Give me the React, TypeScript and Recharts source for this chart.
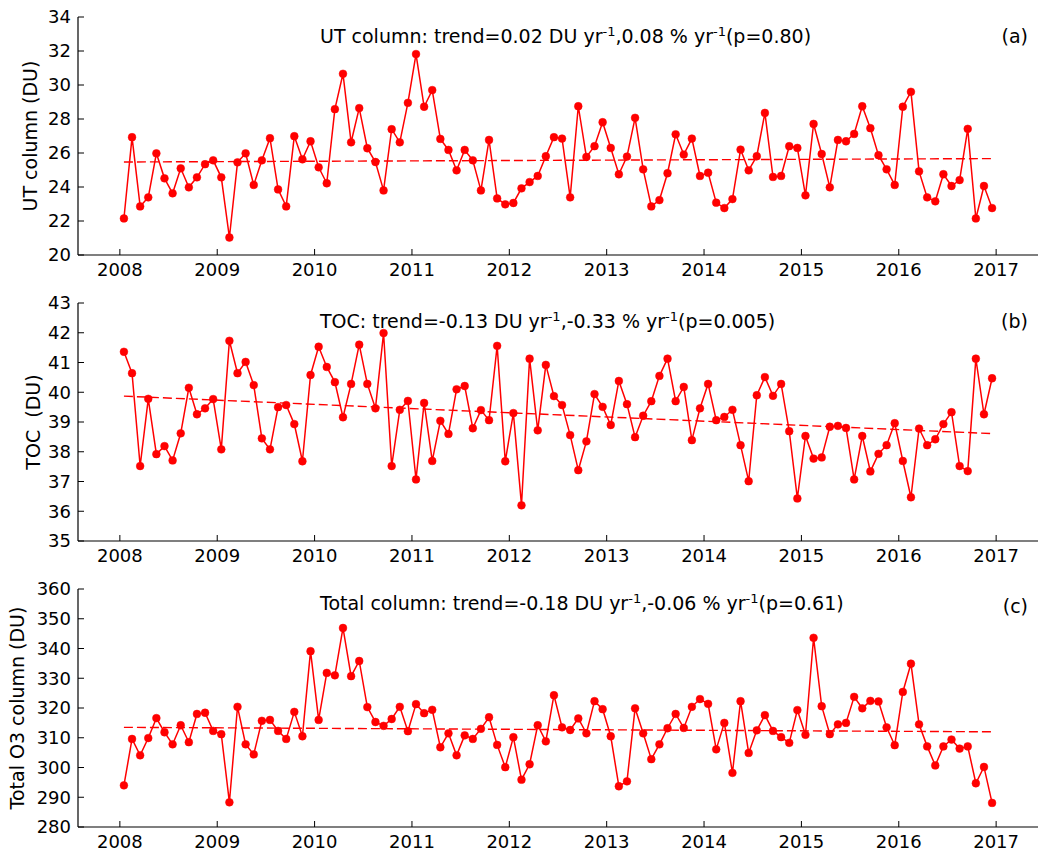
import React from "react";
import { LineChart, Line, XAxis, YAxis } from "recharts";

// monthly means 2008-2016
const YEARS = [2008, 2009, 2010, 2011, 2012, 2013, 2014, 2015, 2016];
const MONTHS = ["Jan", "Feb", "Mar", "Apr", "May", "Jun", "Jul", "Aug", "Sep", "Oct", "Nov", "Dec"];
const X_TICKS = [2008, 2009, 2010, 2011, 2012, 2013, 2014, 2015, 2016, 2017];
const X_DOMAIN: [number, number] = [2007.57, 2017.43];

const UT = [
  22.15, 26.93, 22.86, 23.39, 25.98, 24.51, 23.63, 25.1, 23.98, 24.57, 25.34, 25.57,
  24.57, 21.03, 25.45, 25.98, 24.12, 25.57, 26.87, 23.86, 22.86, 26.99, 25.63, 26.69,
  25.16, 24.22, 28.58, 30.66, 26.63, 28.64, 26.28, 25.47, 23.8, 27.4, 26.63, 28.95,
  31.82, 28.72, 29.7, 26.83, 26.18, 24.98, 26.18, 25.57, 23.8, 26.77, 23.33, 22.98,
  23.06, 23.92, 24.29, 24.65, 25.81, 26.93, 26.85, 23.39, 28.75, 25.77, 26.4, 27.81,
  26.3, 24.75, 25.79, 28.07, 25.04, 22.86, 23.23, 24.81, 27.1, 25.91, 26.85, 24.65,
  24.84, 23.08, 22.76, 23.29, 26.2, 24.98, 25.81, 28.36, 24.59, 24.65, 26.4, 26.3,
  23.51, 27.71, 25.94, 23.98, 26.77, 26.69, 27.12, 28.75, 27.46, 25.87, 25.04, 24.12,
  28.72, 29.6, 24.92, 23.39, 23.16, 24.75, 24.06, 24.41, 27.42, 22.15, 24.06, 22.76,
];

const TOC = [
  41.36, 40.64, 37.52, 39.78, 37.92, 38.19, 37.71, 38.62, 40.15, 39.26, 39.46, 39.77,
  38.08, 41.73, 40.64, 41.02, 40.24, 38.45, 38.08, 39.5, 39.57, 38.93, 37.68, 40.58,
  41.53, 40.85, 40.34, 39.16, 40.28, 41.6, 40.28, 39.46, 41.99, 37.52, 39.41, 39.71,
  37.07, 39.64, 37.69, 39.04, 38.6, 40.1, 40.21, 38.79, 39.4, 39.06, 41.56, 37.68,
  39.3, 36.2, 41.13, 38.72, 40.92, 39.87, 39.57, 38.56, 37.38, 38.35, 39.94, 39.51,
  38.9, 40.38, 39.6, 38.49, 39.21, 39.7, 40.55, 41.13, 39.7, 40.18, 38.39, 39.46,
  40.28, 39.06, 39.17, 39.41, 38.22, 37.01, 39.9, 40.51, 39.88, 40.28, 38.69, 36.43,
  38.53, 37.77, 37.81, 38.84, 38.87, 38.8, 37.07, 38.53, 37.34, 37.93, 38.22, 38.96,
  37.69, 36.47, 38.78, 38.22, 38.42, 38.93, 39.33, 37.52, 37.35, 41.13, 39.26, 40.47,
];

const TOTAL = [
  294.0, 309.6, 304.1, 309.9, 316.6, 311.85, 307.8, 314.2, 308.5, 318.0, 318.4, 312.3,
  311.2, 288.3, 320.4, 307.8, 304.4, 315.7, 316.0, 312.3, 309.6, 318.7, 310.5, 339.1,
  316.0, 331.8, 331.0, 346.9, 330.7, 335.8, 320.3, 315.3, 314.0, 316.3, 320.4, 312.2,
  321.3, 318.25, 319.4, 306.8, 311.5, 304.1, 310.8, 309.6, 313.0, 316.9, 307.6, 300.1,
  310.2, 295.9, 301.1, 314.2, 308.8, 324.3, 313.5, 312.6, 316.5, 311.5, 322.3, 319.6,
  310.5, 293.7, 295.35, 319.9, 311.5, 302.8, 307.8, 313.2, 318.0, 313.3, 320.4, 323.0,
  321.4, 306.1, 315.0, 298.2, 322.3, 304.9, 312.5, 317.6, 312.3, 310.2, 308.3, 319.3,
  311.0, 343.6, 320.6, 311.2, 314.5, 315.0, 323.75, 319.9, 322.4, 322.2, 313.5, 307.5,
  325.4, 334.9, 314.5, 307.1, 300.7, 307.1, 309.4, 306.35, 307.1, 294.7, 300.2, 288.1,
];

// fitted trend line, start and end values
const UT_TREND = [25.47, 25.67];
const TOC_TREND = [39.87, 38.61];
const TOTAL_TREND = [313.5, 312.0];

const UT_TICKS = [20, 22, 24, 26, 28, 30, 32, 34];
const TOC_TICKS = [35, 36, 37, 38, 39, 40, 41, 42, 43];
const TOTAL_TICKS = [280, 290, 300, 310, 320, 330, 340, 350, 360];

const FONT = "'DejaVu Sans', sans-serif";
const RED = "#ff0000";
const W = 1049;
const H = 286;

// mid-month decimal year
const TIME = YEARS.flatMap((y) => MONTHS.map((_, m) => y + (m + 0.5) / 12));

const spine = { stroke: "#000", strokeWidth: 1.2 };

function BottomTick(props: any) {
  const { x, y, payload } = props;
  return (
    <g>
      <line x1={x} x2={x} y1={y - 8} y2={y - 14} stroke="#000" />
      <text x={x} y={y} dy="0.72em" textAnchor="middle" fontSize={18} fontFamily={FONT} fill="#000">
        {payload.value}
      </text>
    </g>
  );
}

function TopTick(props: any) {
  const { x, y } = props;
  return <line x1={x} x2={x} y1={y} y2={y + 6} stroke="#000" />;
}

function LeftTick(props: any) {
  const { x, y, payload } = props;
  return (
    <g>
      <line x1={x + 7} x2={x + 13} y1={y} y2={y} stroke="#000" />
      <text x={x} y={y} dy="0.36em" textAnchor="end" fontSize={18} fontFamily={FONT} fill="#000">
        {payload.value}
      </text>
    </g>
  );
}

function RightTick(props: any) {
  const { x, y } = props;
  return <line x1={x} x2={x - 6} y1={y} y2={y} stroke="#000" />;
}

function Panel({ values, trend, ticks, top }: { values: number[]; trend: number[]; ticks: number[]; top: number }) {
  const data = TIME.map((t, i) => ({ t, v: values[i] }));
  const trendData = [
    { t: TIME[0], v: trend[0] },
    { t: TIME[TIME.length - 1], v: trend[1] },
  ];
  const yDomain: [number, number] = [ticks[0], ticks[ticks.length - 1]];
  return (
    <div style={{ position: "absolute", left: 0, top, width: W, height: H }}>
      <LineChart width={W} height={H} margin={{ top: 17, right: 11, bottom: 0, left: 0 }}>
        <XAxis
          dataKey="t"
          type="number"
          domain={X_DOMAIN}
          ticks={X_TICKS}
          interval={0}
          allowDataOverflow
          height={31}
          tickSize={0}
          tickMargin={8}
          tickLine={false}
          axisLine={spine}
          tick={<BottomTick />}
        />
        <XAxis
          xAxisId="top"
          orientation="top"
          dataKey="t"
          type="number"
          domain={X_DOMAIN}
          ticks={X_TICKS}
          interval={0}
          allowDataOverflow
          height={0}
          tickSize={0}
          tickMargin={0}
          tickLine={false}
          axisLine={spine}
          tick={<TopTick />}
        />
        <YAxis
          type="number"
          domain={yDomain}
          ticks={ticks}
          interval={0}
          allowDataOverflow
          width={78}
          tickSize={0}
          tickMargin={7}
          tickLine={false}
          axisLine={spine}
          tick={<LeftTick />}
        />
        <YAxis
          yAxisId="right"
          orientation="right"
          type="number"
          domain={yDomain}
          ticks={ticks}
          interval={0}
          allowDataOverflow
          width={0}
          tickSize={0}
          tickMargin={0}
          tickLine={false}
          axisLine={spine}
          tick={<RightTick />}
        />
        <Line
          data={trendData}
          dataKey="v"
          type="linear"
          stroke={RED}
          strokeWidth={1.4}
          strokeDasharray="9 4"
          dot={false}
          activeDot={false}
          isAnimationActive={false}
        />
        <Line
          data={data}
          dataKey="v"
          type="linear"
          stroke={RED}
          strokeWidth={1.5}
          dot={{ r: 3.9, fill: RED, stroke: RED, strokeWidth: 0.5 }}
          activeDot={false}
          isAnimationActive={false}
        />
      </LineChart>
    </div>
  );
}

function Title({ y, parts }: { y: number; parts: string[] }) {
  // parts alternate: normal text, superscript "-1", normal text, ...
  return (
    <text x={320} y={y} fontSize={19} fontFamily={FONT} fill="#000">
      {parts.map((p, i) =>
        i % 2 === 1 ? (
          <tspan key={i} dy={-7} fontSize={13}>
            {p}
          </tspan>
        ) : (
          <tspan key={i} dy={i === 0 ? 0 : 7}>
            {p}
          </tspan>
        )
      )}
    </text>
  );
}

function YLabel({ x, y, text }: { x: number; y: number; text: string }) {
  return (
    <text
      x={x}
      y={y}
      dy="0.35em"
      transform={`rotate(-90 ${x} ${y})`}
      textAnchor="middle"
      fontSize={19}
      fontFamily={FONT}
      fill="#000"
      style={{ whiteSpace: "pre" }}
    >
      {text}
    </text>
  );
}

function Letter({ y, text }: { y: number; text: string }) {
  return (
    <text x={1028} y={y} textAnchor="end" fontSize={19} fontFamily={FONT} fill="#000">
      {text}
    </text>
  );
}

export default function App() {
  return (
    <div style={{ position: "absolute", left: 0, top: 0, width: W, height: 857, background: "#fff" }}>
      <Panel values={UT} trend={UT_TREND} ticks={UT_TICKS} top={0} />
      <Panel values={TOC} trend={TOC_TREND} ticks={TOC_TICKS} top={286} />
      <Panel values={TOTAL} trend={TOTAL_TREND} ticks={TOTAL_TICKS} top={572} />
      <svg width={W} height={857} style={{ position: "absolute", left: 0, top: 0, pointerEvents: "none" }}>
        <Title y={43} parts={["UT column: trend=0.02 DU yr", "-1", ",0.08 % yr", "-1", "(p=0.80)"]} />
        <Title y={328} parts={["TOC: trend=-0.13 DU yr", "-1", ",-0.33 % yr", "-1", "(p=0.005)"]} />
        <Title y={610} parts={["Total column: trend=-0.18 DU yr", "-1", ",-0.06 % yr", "-1", "(p=0.61)"]} />
        <Letter y={43} text="(a)" />
        <Letter y={328} text="(b)" />
        <Letter y={613} text="(c)" />
        <YLabel x={30} y={136} text="UT column (DU)" />
        <YLabel x={33} y={422} text="TOC  (DU)" />
        <YLabel x={17} y={708} text="Total O3 column (DU)" />
      </svg>
    </div>
  );
}
